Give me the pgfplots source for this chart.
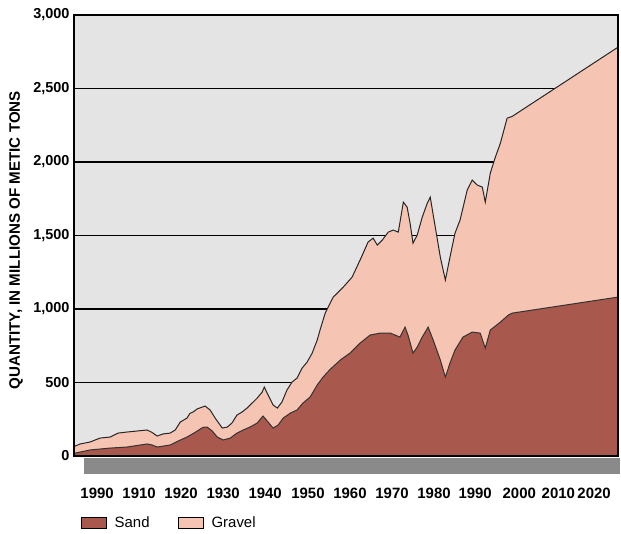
\documentclass[border=0pt]{standalone}
\usepackage{pgfplots}
\pgfplotsset{compat=1.18}
\usepackage{fontspec}
\setmainfont{Liberation Sans}

\definecolor{sandc}{HTML}{A8584C}
\definecolor{gravelc}{HTML}{F6C4B2}
\definecolor{plotbg}{HTML}{E4E4E4}
\definecolor{shadow}{HTML}{8A8A8A}

% total (sand + gravel), million metric tons
\pgfplotstableread{
year total
1894.5 60
1894.8 68
1896.0 82
1898.3 95
1900.7 122
1903.1 129
1905.0 156
1907.1 163
1909.5 170
1911.9 177
1913.1 160
1914.3 136
1915.7 150
1917.4 156
1918.6 177
1919.8 231
1921.4 258
1922.1 290
1922.9 300
1923.8 320
1925.7 340
1926.9 313
1928.1 258
1929.8 190
1931.0 197
1932.1 224
1933.3 279
1934.5 299
1935.7 326
1936.9 360
1938.1 394
1939.3 435
1939.8 469
1940.7 415
1941.9 347
1942.9 326
1944.0 367
1945.2 449
1946.4 503
1947.6 530
1948.8 598
1950.0 639
1951.2 700
1952.4 789
1953.1 860
1954.3 972
1956.2 1081
1958.6 1149
1960.7 1217
1962.6 1333
1964.5 1455
1965.7 1482
1966.7 1435
1967.9 1469
1969.3 1523
1970.5 1537
1971.7 1523
1972.9 1727
1973.8 1693
1974.5 1584
1975.2 1448
1976.2 1503
1977.4 1625
1978.6 1720
1979.3 1761
1980.5 1557
1981.7 1353
1982.9 1197
1984.0 1353
1985.2 1516
1986.4 1605
1988.1 1809
1989.3 1877
1990.5 1843
1991.7 1829
1992.4 1727
1993.6 1924
1994.8 2033
1996.0 2128
1997.6 2298
1998.8 2310
2024.0 2781
}\totaltable

% sand only
\pgfplotstableread{
year sand
1894.5 18
1894.8 20
1898.3 41
1903.1 54
1907.1 61
1911.9 82
1913.1 75
1914.3 61
1917.4 75
1919.3 102
1921.4 129
1923.3 160
1925.2 195
1926.2 197
1927.4 170
1928.6 129
1930.0 109
1931.7 122
1933.3 156
1934.8 177
1936.4 197
1938.1 224
1939.5 272
1940.7 231
1941.9 190
1943.1 211
1944.3 258
1946.0 292
1947.6 313
1949.0 360
1950.7 401
1952.4 483
1953.8 537
1955.5 590
1957.9 653
1960.2 700
1962.6 768
1965.0 823
1967.4 836
1969.8 836
1972.1 809
1973.3 877
1974.0 823
1975.2 700
1976.2 741
1977.4 809
1978.8 877
1980.0 789
1981.7 653
1982.9 537
1984.0 632
1985.2 721
1987.1 809
1989.3 843
1991.2 836
1992.4 734
1993.6 857
1996.0 911
1997.9 959
1998.8 972
2024.0 1081
}\sandtable

\begin{document}
\begin{tikzpicture}
\begin{axis}[
  scale only axis,
  width=544bp, height=441bp,
  xmin=1894.5, xmax=2024.0,
  ymin=0, ymax=3000,
  clip=false,
  axis background/.style={fill=plotbg},
  axis line style={black, line width=1.3pt},
  major tick length=0pt,
  ytick={0,500,1000,1500,2000,2500,3000},
  yticklabels={0,500,{1,000},{1,500},{2,000},{2,500},{3,000}},
  xtick={1900,1910,1920,1930,1940,1950.2,1960.2,1970.2,1980.2,1990,2000.5,2009.8,2018.3},
  xticklabels={1990,1910,1920,1930,1940,1950,1960,1970,1980,1990,2000,2010,2020},
  ymajorgrids,
  major grid style={black, line width=1.4pt},
  y tick label style={font=\fontsize{14.5}{16}\selectfont\bfseries, xshift=-1bp},
  x tick label style={font=\fontsize{15}{17}\selectfont\bfseries, yshift=-29bp},
  ylabel={QUANTITY, IN MILLIONS OF METIC TONS},
  ylabel style={font=\fontsize{15.2}{17}\selectfont\bfseries,
    at={(axis description cs:-0.1066,0.489)}, anchor=center},
  legend columns=2,
  legend style={draw=none, fill=none, at={(axis description cs:0.012,-0.151)},
    anchor=west, inner sep=0pt,
    font=\fontsize{15}{17}\selectfont,
    /tikz/every odd column/.append style={column sep=6bp},
    /tikz/every even column/.append style={column sep=26bp}},
  legend image code/.code={\draw[#1, line width=1pt] (0bp,-5.5bp) rectangle (25bp,5.5bp);},
]
% page frame and the grey shadow under the plot
\path (rel axis cs:-0.136,-0.1746) rectangle (rel axis cs:1.0055,1.034);
\fill[shadow] (rel axis cs:0.018,-0.005) rectangle (rel axis cs:1.004,-0.041);

\addplot[fill=gravelc, draw=black!85, line width=1pt, forget plot]
  table[x=year, y=total] {\totaltable} \closedcycle;
\addplot[fill=sandc, draw=black!80, line width=1pt, forget plot]
  table[x=year, y=sand] {\sandtable} \closedcycle;

% redraw frame over the areas
\draw[black, line width=1.3pt] (rel axis cs:0,0) rectangle (rel axis cs:1,1);

\addlegendimage{fill=sandc, draw=black}
\addlegendimage{fill=gravelc, draw=black}
\legend{Sand, Gravel}
\end{axis}
\end{tikzpicture}
\end{document}
